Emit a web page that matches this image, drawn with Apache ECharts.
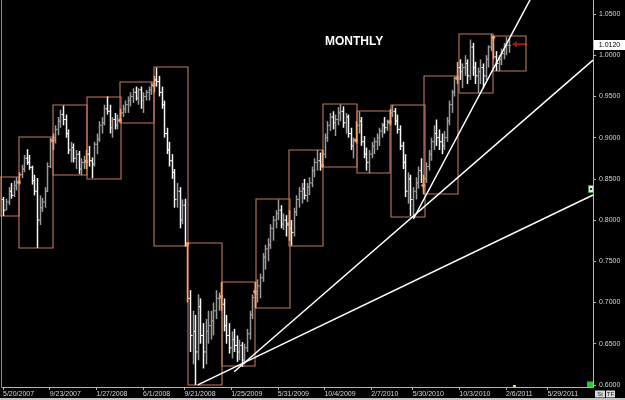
<!DOCTYPE html>
<html><head><meta charset="utf-8">
<script src="https://cdn.jsdelivr.net/npm/echarts@6/dist/echarts.min.js"></script>
<style>html,body{margin:0;padding:0;background:#000}#c{width:625px;height:400px}</style>
</head><body><div id="c"></div>
<script>
// ---- data (weekly bars, first bar week of 2007-05-21) ----
const firstWeek = '2007-05-21';
const open = [
 .825,.812,.822,.835,.830,.842,
 .846,.855,.862,.875,.870,.864,.848,.835,.800,.815,.822,.835,.865,
 .897,.900,.910,.920,.928,.922,.905,.885,.888,.875,.880,.862,.870,
 .871,.880,.872,.868,.892,.898,.915,.918,.935,.932,.912,.922,.915,
 .921,.930,.935,.940,.945,.950,.955,.948,.958,.945,.950,.955,.958,
 .964,.970,.968,.955,.940,.905,.885,.872,.858,.825,.835,.800,.818,
 .771,.705,.660,.665,.640,.695,.660,.640,.665,.672,.678,.690,.705,
 .707,.698,.672,.660,.645,.655,.648,.640,.648,.630,.645,.662,.685,
 .713,.710,.720,.730,.755,.765,.770,.790,.800,.808,.812,.795,.800,
 .795,.790,.785,.810,.825,.835,.838,.830,.840,.845,.860,.870,.872,
 .866,.880,.900,.915,.925,.918,.922,.930,.932,.918,.925,.905,.890,
 .897,.915,.920,.895,.880,.870,.880,.890,.895,.900,.908,.915,.912,
 .919,.930,.932,.920,.910,.890,.870,.835,.850,.825,.835,.845,.860,
 .842,.850,.865,.880,.895,.905,.900,.895,.890,.900,.920,.940,.955,
 .972,.985,.980,.985,.990,.975,1.010,.985,.975,.980,.985,.975,.995,1.010,
 1.0215,.998,.990,.995,1.002,1.010,1.012
];
const high = [
 .828,.826,.840,.845,.848,.852,
 .858,.867,.879,.886,.879,.866,.855,.851,.830,.827,.840,.870,.900,
 .905,.915,.925,.934,.939,.928,.910,.895,.893,.885,.884,.875,.878,
 .885,.890,.876,.895,.905,.920,.925,.940,.950,.940,.925,.930,.928,
 .935,.940,.945,.950,.955,.960,.962,.960,.962,.955,.958,.962,.967,
 .975,.985,.975,.962,.945,.912,.895,.880,.862,.845,.840,.825,.826,
 .772,.715,.690,.685,.710,.705,.675,.680,.690,.690,.700,.715,.712,
 .725,.705,.685,.675,.665,.668,.660,.655,.652,.650,.668,.690,.710,
 .725,.728,.735,.760,.770,.778,.795,.805,.812,.825,.818,.808,.806,
 .812,.800,.815,.830,.840,.845,.850,.845,.852,.865,.875,.885,.882,
 .885,.905,.920,.930,.932,.928,.937,.9405,.938,.930,.928,.912,.900,
 .920,.932,.925,.902,.888,.885,.895,.900,.905,.912,.918,.925,.922,
 .935,.9396,.936,.928,.915,.895,.880,.858,.855,.840,.852,.865,.875,
 .855,.870,.885,.900,.915,.922,.910,.905,.908,.925,.945,.958,.974,
 .992,.995,.990,1.000,.995,1.019,1.015,.992,.985,.995,.990,1.000,1.012,1.0257,
 1.0229,1.005,1.000,1.008,1.015,1.022,1.020
];
const low = [
 .805,.812,.818,.826,.828,.836,
 .843,.851,.858,.867,.861,.843,.830,.766,.794,.810,.815,.834,.863,
 .885,.893,.903,.912,.915,.900,.880,.870,.870,.862,.856,.8545,.862,
 .862,.865,.851,.865,.880,.895,.905,.915,.928,.905,.900,.910,.910,
 .918,.925,.930,.930,.938,.942,.945,.940,.935,.930,.945,.945,.952,
 .955,.962,.950,.935,.900,.880,.865,.850,.815,.815,.790,.795,.768,
 .700,.640,.625,.600,.630,.650,.620,.625,.650,.655,.660,.680,.690,
 .690,.665,.650,.638,.632,.640,.628,.630,.622,.625,.640,.655,.680,
 .693,.700,.705,.725,.740,.750,.765,.775,.790,.800,.790,.788,.780,
 .775,.769,.780,.805,.815,.820,.825,.822,.830,.840,.852,.860,.860,
 .864,.875,.895,.908,.910,.902,.915,.920,.912,.905,.900,.885,.875,
 .893,.905,.890,.875,.860,.857,.875,.880,.885,.890,.900,.905,.908,
 .915,.925,.915,.905,.885,.862,.828,.820,.805,.8041,.825,.838,.845,
 .8313,.845,.860,.872,.885,.890,.885,.880,.885,.895,.915,.930,.950,
 .965,.970,.960,.975,.965,.970,.975,.965,.954,.965,.960,.970,.985,1.005,
 .995,.981,.9805,.988,.995,1.000,1.003
];
const close = [
 .812,.822,.835,.830,.842,.846,
 .855,.862,.875,.870,.864,.848,.835,.800,.815,.822,.835,.865,.895,
 .900,.910,.920,.928,.922,.905,.885,.888,.875,.880,.862,.870,.872,
 .880,.872,.868,.892,.898,.915,.918,.935,.932,.912,.922,.915,.921,
 .930,.935,.940,.945,.950,.955,.948,.958,.945,.950,.955,.958,.963,
 .970,.968,.955,.940,.905,.885,.872,.858,.825,.835,.800,.818,.771,
 .705,.660,.665,.640,.695,.660,.640,.665,.672,.678,.690,.705,.707,
 .698,.672,.660,.645,.655,.648,.640,.648,.630,.645,.662,.685,.706,
 .710,.720,.730,.755,.765,.770,.790,.800,.808,.812,.795,.800,.795,
 .790,.785,.810,.825,.835,.838,.830,.840,.845,.860,.870,.872,.866,
 .880,.900,.915,.925,.918,.922,.930,.932,.918,.925,.905,.890,.897,
 .915,.920,.895,.880,.870,.880,.890,.895,.900,.908,.915,.912,.919,
 .930,.932,.920,.910,.890,.870,.835,.850,.825,.835,.845,.860,.842,
 .850,.865,.880,.895,.905,.900,.895,.890,.900,.920,.940,.955,.972,
 .985,.980,.985,.990,.975,1.010,.985,.975,.980,.985,.975,.995,1.010,1.0215,
 .998,.990,.995,1.002,1.010,1.012,1.012
];
// quarterly range boxes
const quarterStarts = ['2007-04-01','2007-07-01','2007-10-01','2008-01-01','2008-04-01','2008-07-01','2008-10-01','2009-01-01','2009-04-01','2009-07-01','2009-10-01','2010-01-01','2010-04-01','2010-07-01','2010-10-01','2011-01-01'];
const quarterEnds   = ['2007-07-01','2007-10-01','2008-01-01','2008-04-01','2008-07-01','2008-10-01','2009-01-01','2009-04-01','2009-07-01','2009-10-01','2010-01-01','2010-04-01','2010-07-01','2010-10-01','2011-01-01','2011-04-01'];
const boxHigh = [.852,.9004,.9393,.9497,.9672,.9853,.7719,.7246,.8252,.8850,.9405,.9323,.9396,.9744,1.0257,1.0229];
const boxLow  = [.805,.7658,.8543,.8507,.9174,.7677,.6000,.6222,.6930,.7686,.8640,.8568,.8041,.8313,.9538,.9805];
// trend lines [date, price]
const trendLow   = [['2008-10-27',0.600],['2011-09-29',0.8304]];
const trendMid   = [['2009-02-02',0.616],['2011-09-29',0.994]];
const trendSteep = [['2010-06-01',0.8013],['2011-05-22',1.101]];
// axes
const tickDates = ['2007-05-20','2007-09-23','2008-01-27','2008-06-01','2008-09-21','2009-01-25','2009-05-31','2009-10-04','2010-02-07','2010-05-30','2010-10-03','2011-02-06','2011-05-29'];
const yTicks = [0.60,0.65,0.70,0.75,0.80,0.85,0.90,0.95,1.00,1.05];
const xMin = '2007-05-17', xMax = '2011-09-29';
const yMin = 0.5975, yMax = 1.067;

// ---- build ----
const DAY = 86400000;
const ms = s => Date.parse(s + 'T00:00:00Z');
const weeks = open.map((_, k) => ms(firstWeek) + k * 7 * DAY);
const firstIdx = quarterStarts.map(q => {
  if (ms(q) < weeks[0]) return -1;
  return weeks.findIndex(t => t + 4 * DAY >= ms(q));
});
const firstSet = new Set(firstIdx.filter(i => i >= 0));
const barData = weeks.map((t, k) => [t, open[k], high[k], low[k], close[k], firstSet.has(k) ? 2 : (close[k] >= open[k] ? 1 : 0)]);
const boxData = quarterStarts.map((q, i) => [ms(q), ms(quarterEnds[i]), boxHigh[i], boxLow[i]]);
const markerData = firstIdx.filter(i => i >= 0).map(i => [weeks[i], open[i]]);
const toLine = arr => arr.map(p => [ms(p[0]), p[1]]);

function renderOHLC(params, api) {
  const t = api.value(0);
  const o = api.coord([t, api.value(1)]);
  const h = api.coord([t, api.value(2)]);
  const l = api.coord([t, api.value(3)]);
  const c = api.coord([t, api.value(4)]);
  const kind = api.value(5);
  const col = kind === 2 ? '#f4a676' : (kind === 1 ? '#9a9a9a' : '#f6f6f6');
  const x = Math.round(h[0]) + 0.5;
  return { type: 'group', children: [
    { type: 'line', shape: { x1: x, y1: h[1], x2: x, y2: l[1] }, style: { stroke: col, lineWidth: 1.5 } },
    { type: 'line', shape: { x1: x - 1.5, y1: o[1], x2: x, y2: o[1] }, style: { stroke: col, lineWidth: 1 } },
    { type: 'line', shape: { x1: x, y1: c[1], x2: x + 1.5, y2: c[1] }, style: { stroke: col, lineWidth: 1 } }
  ]};
}
function renderBox(params, api) {
  const a = api.coord([api.value(0), api.value(2)]);
  const b = api.coord([api.value(1), api.value(3)]);
  const cs = params.coordSys;
  const x1 = Math.max(a[0], cs.x - 2), x2 = Math.min(b[0], cs.x + cs.width);
  return { type: 'rect', shape: { x: Math.round(x1), y: Math.round(a[1]), width: Math.round(x2 - x1), height: Math.round(b[1] - a[1]) },
    style: { stroke: '#c0785a', fill: null, lineWidth: 1.1 } };
}
const fmtDate = v => { const d = new Date(v); return (d.getUTCMonth() + 1) + '/' + d.getUTCDate() + '/' + d.getUTCFullYear(); };
const lineSeries = arr => ({ type: 'line', data: toLine(arr), symbol: 'none', silent: true, clip: true,
  lineStyle: { color: '#ffffff', width: 1.5 }, z: 5 });
const xTickVals = tickDates.map(ms);

const chart = echarts.init(document.getElementById('c'), null, { renderer: 'canvas' });
chart.setOption({
  backgroundColor: '#000000',
  animation: false,
  title: { text: 'MONTHLY', left: 325, top: 36, padding: 0,
    textStyle: { color: '#ffffff', fontSize: 12, fontWeight: 'bold', fontFamily: 'Liberation Sans' } },
  grid: { left: 0, right: 32, top: 0, bottom: 13, containLabel: false },
  xAxis: { type: 'value', min: ms(xMin), max: ms(xMax), scale: true,
    axisLine: { show: true, lineStyle: { color: '#b4b4b4', width: 1 } },
    axisTick: { show: true, customValues: xTickVals, length: 3, lineStyle: { color: '#b4b4b4' } },
    axisLabel: { customValues: xTickVals, formatter: fmtDate, color: '#d4d4d4', fontSize: 7,
      fontFamily: 'Liberation Sans', align: 'left', margin: 4 },
    splitLine: { show: false } },
  yAxis: { type: 'value', position: 'right', min: yMin, max: yMax, scale: true,
    axisLine: { show: true, lineStyle: { color: '#b4b4b4', width: 1 } },
    axisTick: { show: true, customValues: yTicks, length: 3, lineStyle: { color: '#b4b4b4' } },
    axisLabel: { customValues: yTicks, formatter: v => v.toFixed(4), color: '#d4d4d4', fontSize: 7,
      fontFamily: 'Liberation Sans', margin: 6 },
    splitLine: { show: false } },
  series: [
    { type: 'custom', renderItem: renderBox, data: boxData, encode: { x: [0, 1], y: [2, 3] }, silent: true, z: 1 },
    { type: 'custom', renderItem: renderOHLC, data: barData, encode: { x: 0, y: [1, 2, 3, 4] }, clip: true, silent: true, z: 2 },
    { type: 'scatter', data: markerData, symbol: 'circle', symbolSize: 4, itemStyle: { color: '#f2a070' }, silent: true, z: 3 },
    lineSeries(trendLow), lineSeries(trendMid), lineSeries(trendSteep)
  ]
});

const last = weeks.length - 1;
const pLast = chart.convertToPixel({ xAxisIndex: 0, yAxisIndex: 0 }, [weeks[last], close[last]]);
const yAxisX = 593;
chart.setOption({ graphic: [
  { type: 'line', shape: { x1: 1.5, y1: 0, x2: 1.5, y2: 387 }, style: { stroke: '#8a8a8a', lineWidth: 1 }, silent: true },
  { type: 'rect', shape: { x: yAxisX + 1, y: Math.round(pLast[1]) - 5, width: 31, height: 10 }, style: { fill: '#ffffff' } },
  { type: 'text', x: yAxisX + 16.5, y: Math.round(pLast[1]), style: { text: close[last].toFixed(4), fill: '#000', fontSize: 7, fontFamily: 'Liberation Sans', align: 'center', verticalAlign: 'middle' } },
  { type: 'polygon', shape: { points: [[pLast[0] + 3, pLast[1] - 1], [pLast[0] + 8, pLast[1] - 4], [pLast[0] + 8, pLast[1] - 2], [pLast[0] + 18, pLast[1] - 2], [pLast[0] + 18, pLast[1]], [pLast[0] + 8, pLast[1]], [pLast[0] + 8, pLast[1] + 2]] }, style: { fill: '#a01a1a' } },
  { type: 'rect', shape: { x: pLast[0] + 4, y: 385, width: 3, height: 3 }, style: { fill: '#e8e040' } },
  { type: 'rect', shape: { x: 587, y: 381.5, width: 6, height: 5.5 }, style: { fill: '#22d022' } },
  { type: 'rect', shape: { x: 588.5, y: 185.5, width: 5, height: 7 }, style: { fill: '#e6e6e6', stroke: '#3a9a3a', lineWidth: 1 } },
  { type: 'rect', shape: { x: 590, y: 188, width: 2, height: 2 }, style: { fill: '#333' } },
  { type: 'rect', shape: { x: 0, y: 398, width: 625, height: 2 }, style: { fill: '#c4c4c4' } },
  { type: 'rect', shape: { x: 595, y: 390.5, width: 10, height: 7 }, style: { fill: '#d8d8d8' } },
  { type: 'text', x: 600, y: 394, style: { text: 'St', fill: '#222', fontSize: 6, fontFamily: 'Liberation Sans', align: 'center', verticalAlign: 'middle' } },
  { type: 'rect', shape: { x: 606, y: 390.5, width: 9, height: 7 }, style: { fill: '#d8d8d8' } },
  { type: 'text', x: 610.5, y: 394, style: { text: 'TF', fill: '#222', fontSize: 6, fontFamily: 'Liberation Sans', align: 'center', verticalAlign: 'middle' } }
]});
</script>
</body></html>
